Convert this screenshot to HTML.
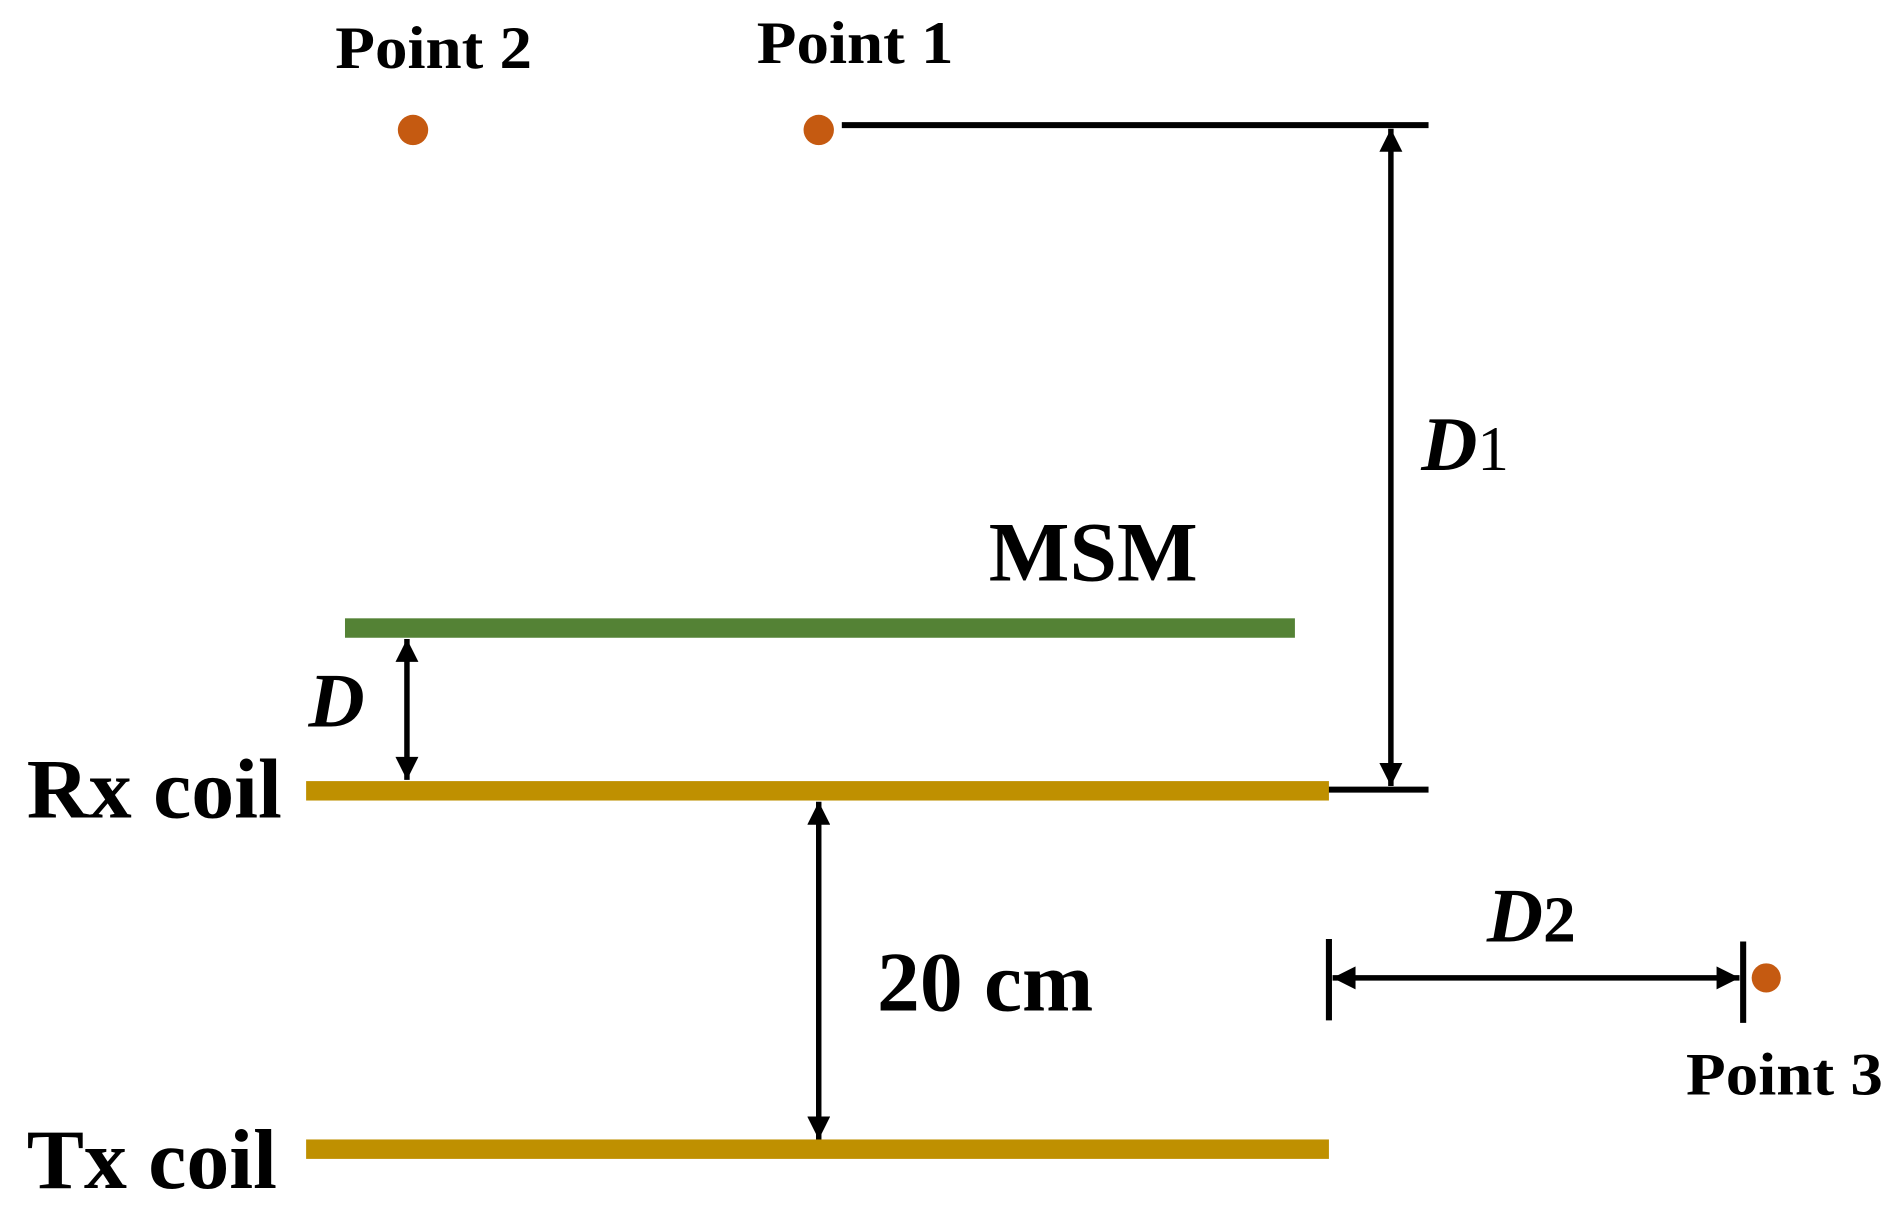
<!DOCTYPE html>
<html><head><style>
html,body{margin:0;padding:0;background:#fff;}
svg{display:block;}
text{font-family:"Liberation Serif",serif;font-weight:bold;fill:#000;}
</style></head><body>
<svg width="1895" height="1220" viewBox="0 0 1560 1004.3" preserveAspectRatio="none" xmlns="http://www.w3.org/2000/svg">
<defs>
<marker id="a" viewBox="0 0 10 10" refX="10" refY="5" markerWidth="5" markerHeight="4.2" orient="auto-start-reverse" markerUnits="strokeWidth">
<path d="M0,0 L10,5 L0,10 Z" fill="#000"/>
</marker>
</defs>
<text x="357" y="56" font-size="50" text-anchor="middle" textLength="162" lengthAdjust="spacingAndGlyphs">Point 2</text>
<text x="704" y="52" font-size="50" text-anchor="middle" textLength="162" lengthAdjust="spacingAndGlyphs">Point 1</text>
<circle cx="340" cy="107" r="12.5" fill="#C55A11"/>
<circle cx="674" cy="107" r="12.5" fill="#C55A11"/>
<line x1="693" y1="103" x2="1176" y2="103" stroke="#000" stroke-width="5"/>
<line x1="1083" y1="650" x2="1176" y2="650" stroke="#000" stroke-width="5"/>
<line x1="1145" y1="106" x2="1145" y2="647" stroke="#000" stroke-width="4.5" marker-start="url(#a)" marker-end="url(#a)"/>
<text x="1170" y="387" font-size="64"><tspan font-style="italic">D</tspan><tspan font-weight="normal" font-size="52">1</tspan></text>
<text x="900" y="478" font-size="70" text-anchor="middle" textLength="172" lengthAdjust="spacingAndGlyphs">MSM</text>
<rect x="284" y="509" width="782" height="16" fill="#548235"/>
<line x1="335" y1="526" x2="335" y2="642" stroke="#000" stroke-width="4.5" marker-start="url(#a)" marker-end="url(#a)"/>
<text x="254" y="598" font-size="64" font-style="italic">D</text>
<text x="22" y="673" font-size="70" textLength="210" lengthAdjust="spacingAndGlyphs">Rx coil</text>
<rect x="252" y="643" width="842" height="16" fill="#BF9000"/>
<line x1="674" y1="660" x2="674" y2="938" stroke="#000" stroke-width="4.5" marker-start="url(#a)" marker-end="url(#a)"/>
<text x="722" y="832" font-size="70" textLength="178" lengthAdjust="spacingAndGlyphs">20 cm</text>
<text x="22" y="978" font-size="70" textLength="206" lengthAdjust="spacingAndGlyphs">Tx coil</text>
<rect x="252" y="938" width="842" height="16" fill="#BF9000"/>
<line x1="1094" y1="773" x2="1094" y2="840" stroke="#000" stroke-width="5"/>
<line x1="1435" y1="775" x2="1435" y2="842" stroke="#000" stroke-width="5"/>
<line x1="1097" y1="805" x2="1432" y2="805" stroke="#000" stroke-width="4.5" marker-start="url(#a)" marker-end="url(#a)"/>
<circle cx="1454" cy="805" r="12" fill="#C55A11"/>
<text x="1224" y="775" font-size="64"><tspan font-style="italic">D</tspan><tspan font-size="54">2</tspan></text>
<text x="1469" y="901" font-size="50" text-anchor="middle" textLength="162" lengthAdjust="spacingAndGlyphs">Point 3</text>
</svg>
</body></html>
